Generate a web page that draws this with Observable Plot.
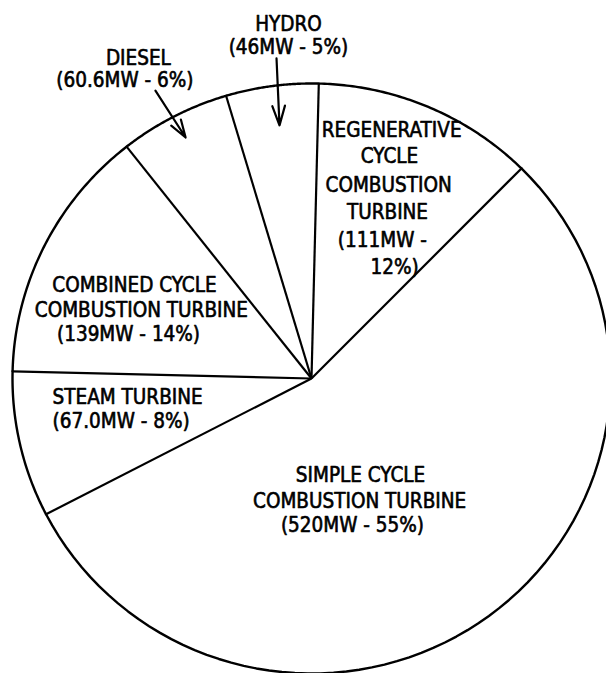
<!DOCTYPE html>
<html>
<head>
<meta charset="utf-8">
<script src="https://cdn.jsdelivr.net/npm/d3@7"></script>
<script src="https://cdn.jsdelivr.net/npm/@observablehq/plot@0.6"></script>
<style>
  html, body { margin: 0; padding: 0; background: #fff; }
  #chart svg { display: block; }
</style>
</head>
<body>
<div id="chart"></div>
<script>
// ---- data (clockwise from the top) ----
const categories = [
  "Regenerative Cycle Combustion Turbine",
  "Simple Cycle Combustion Turbine",
  "Steam Turbine",
  "Combined Cycle Combustion Turbine",
  "Diesel",
  "Hydro"
];
const megawatts = ["111", "520", "67.0", "139", "60.6", "46"];
const percents = [12, 55, 8, 14, 6, 5];

// label text lines per slice
const labelLines = [
  ["REGENERATIVE", "CYCLE", "COMBUSTION", "TURBINE", "(111MW -", "12%)"],
  ["SIMPLE CYCLE", "COMBUSTION TURBINE", "(520MW - 55%)"],
  ["STEAM TURBINE", "(67.0MW - 8%)"],
  ["COMBINED CYCLE", "COMBUSTION TURBINE", "(139MW - 14%)"],
  ["DIESEL", "(60.6MW - 6%)"],
  ["HYDRO", "(46MW - 5%)"]
];

// ---- layout (unit-circle coordinates, y up) ----
const startDeg = 1.4;
const labelLayout = [
  {x: [0.268, 0.261, 0.258, 0.254, 0.237, 0.278], y: [0.841, 0.753, 0.654, 0.563, 0.468, 0.376], anchor: "middle"},
  {x: [0.164, 0.161, 0.137], y: [-0.329, -0.417, -0.498], anchor: "middle"},
  {x: [-0.866, -0.866], y: [-0.064, -0.146], anchor: "start"},
  {x: [-0.592, -0.569, -0.612], y: [0.315, 0.231, 0.149], anchor: "middle"},
  {x: [-0.579, -0.624], y: [1.085, 1.010], anchor: "middle"},
  {x: [-0.077, -0.077], y: [1.200, 1.122], anchor: "middle"}
];
const arrowLayout = [
  {slice: "Diesel", x1: -0.522, y1: 0.976, x2: -0.421, y2: 0.817},
  {slice: "Hydro", x1: -0.117, y1: 1.085, x2: -0.107, y2: 0.858}
];

// ---- derived geometry ----
const a0 = startDeg * Math.PI / 180;
const arcs = d3.pie().sort(null).value(d => d)
  .startAngle(a0).endAngle(a0 + 2 * Math.PI)(percents)
  .map((p, i) => ({...p, name: categories[i]}));

const arcPoints = arcs.flatMap(p => {
  const n = 80;
  return d3.range(n + 1).map(k => {
    const a = p.startAngle + (p.endAngle - p.startAngle) * k / n;
    return {name: p.name, x: Math.sin(a), y: Math.cos(a)};
  });
});

const labels = labelLines.flatMap((lines, i) =>
  lines.map((t, j) => ({
    text: t,
    x: labelLayout[i].x[j],
    y: labelLayout[i].y[j],
    anchor: labelLayout[i].anchor
  }))
);

const font = "'Liberation Sans Narrow', 'DejaVu Sans Condensed', 'Arial Narrow', sans-serif";
const textStyle = {
  x: "x", y: "y", text: "text", lineAnchor: "middle",
  fontFamily: font, fontSize: 20.5, fill: "#000", stroke: "#000", strokeWidth: 0.6
};

const chart = Plot.plot({
  width: 606,
  height: 673,
  margin: 0,
  x: {domain: [-1, 1], range: [12, 610], axis: null},
  y: {domain: [-1, 1], range: [673, 83], axis: null},
  style: {background: "#fff"},
  marks: [
    Plot.line(arcPoints, {x: "x", y: "y", z: "name", stroke: "#000", strokeWidth: 2.4, strokeLinecap: "round"}),
    Plot.link(arcs, {
      x1: d => 0, y1: d => 0,
      x2: d => Math.sin(d.startAngle), y2: d => Math.cos(d.startAngle),
      stroke: "#000", strokeWidth: 2.2
    }),
    Plot.arrow(arrowLayout, {
      x1: "x1", y1: "y1", x2: "x2", y2: "y2",
      stroke: "#000", strokeWidth: 2.2, headLength: 14, headAngle: 36
    }),
    Plot.text(labels.filter(d => d.anchor === "middle"), {...textStyle, textAnchor: "middle"}),
    Plot.text(labels.filter(d => d.anchor === "start"), {...textStyle, textAnchor: "start"})
  ]
});
document.getElementById("chart").appendChild(chart);
</script>
</body>
</html>
